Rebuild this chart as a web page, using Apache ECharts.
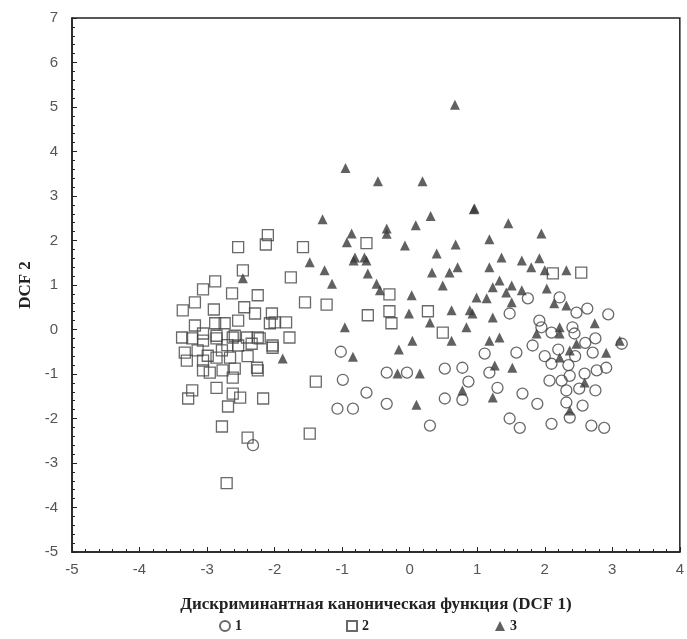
<!DOCTYPE html>
<html>
<head>
<meta charset="utf-8">
<script src="https://cdn.jsdelivr.net/npm/echarts@6/dist/echarts.min.js"></script>
<style>
  html, body { margin: 0; padding: 0; background: #fff; }
  #chart { width: 687px; height: 639px; }
</style>
</head>
<body>
<div id="chart"></div>
<script>
// group 1 (circles)
var group1 = [
  [-1.02,-0.50],[-0.99,-1.13],[-0.64,-1.42],[-0.34,-0.97],[-0.04,-0.97],[-0.34,-1.67],
  [-1.07,-1.78],[-0.84,-1.78],[0.30,-2.16],[0.52,-0.88],[0.78,-0.86],[0.87,-1.17],
  [0.52,-1.55],[0.78,-1.58],[1.75,0.70],[2.22,0.72],[2.47,0.38],[2.63,0.47],[2.94,0.34],
  [1.48,0.36],[1.92,0.20],[2.41,0.05],[2.10,-0.07],[1.11,-0.54],[1.58,-0.52],[1.18,-0.97],
  [1.82,-0.36],[2.10,-0.77],[2.07,-1.15],[2.25,-1.15],[2.37,-1.04],[2.59,-0.99],[2.77,-0.92],
  [2.91,-0.86],[2.71,-0.52],[2.44,-0.09],[1.30,-1.31],[1.67,-1.44],[1.89,-1.67],[2.32,-1.37],
  [2.51,-1.33],[2.75,-1.37],[2.32,-1.64],[2.56,-1.71],[2.37,-1.98],[1.48,-2.00],[1.63,-2.21],
  [2.10,-2.12],[2.69,-2.16],[2.88,-2.21],[3.14,-0.32],[-2.32,-2.60],[2.20,-0.45],[2.45,-0.60],
  [2.00,-0.60],[1.95,0.05],[2.60,-0.30],[2.35,-0.80],[2.75,-0.20]
];
// group 2 (squares)
var group2 = [
  [-2.10,2.12],[-2.13,1.91],[-2.54,1.85],[-2.47,1.33],[-2.88,1.08],[-3.06,0.90],[-2.63,0.81],
  [-2.25,0.77],[-3.18,0.61],[-3.36,0.43],[-2.29,0.36],[-2.04,0.36],[-2.07,0.14],[-3.18,0.09],
  [-2.88,0.14],[-2.74,0.14],[-2.54,0.20],[-3.37,-0.18],[-3.06,-0.09],[-2.86,-0.14],[-2.59,-0.14],
  [-2.25,-0.18],[-3.22,-0.20],[-3.06,-0.25],[-2.86,-0.20],[-2.62,-0.18],[-2.41,-0.18],[-2.22,-0.20],
  [-2.03,-0.36],[-3.33,-0.52],[-3.14,-0.47],[-2.99,-0.59],[-2.78,-0.47],[-2.54,-0.36],[-2.34,-0.32],
  [-3.30,-0.70],[-3.06,-0.70],[-2.86,-0.63],[-2.66,-0.63],[-3.06,-0.92],[-2.96,-0.97],[-2.77,-0.92],
  [-2.59,-0.88],[-2.62,-1.08],[-2.26,-0.86],[-2.25,-0.92],[-2.86,-1.31],[-3.22,-1.37],[-3.28,-1.55],
  [-2.62,-1.44],[-2.51,-1.53],[-2.69,-1.73],[-2.17,-1.55],[-2.78,-2.18],[-2.40,-2.43],[-2.71,-3.45],
  [-2.00,0.16],[-1.83,0.16],[-1.78,-0.18],[-2.03,-0.41],[-1.76,1.17],[-1.55,0.61],[-1.23,0.56],
  [-0.62,0.32],[-0.30,0.79],[-0.30,0.41],[-0.27,0.14],[0.27,0.41],[0.49,-0.07],[-1.58,1.85],
  [-0.64,1.94],[2.54,1.28],[2.12,1.26],[-1.39,-1.17],[-1.48,-2.34],[-2.90,0.45],[-2.45,0.50],
  [-2.70,-0.35],[-2.40,-0.60]
];
// group 3 (triangles)
var group3 = [
  [0.67,5.05],[-0.95,3.63],[-0.47,3.33],[0.19,3.33],[0.95,2.70],[-1.29,2.48],[0.31,2.55],
  [0.09,2.34],[-0.34,2.27],[-0.34,2.15],[-0.86,2.16],[-0.93,1.96],[-0.07,1.89],[0.68,1.91],
  [0.40,1.71],[-0.81,1.62],[-0.67,1.62],[-1.48,1.51],[-1.26,1.33],[-1.15,1.03],[-0.83,1.55],
  [-0.64,1.55],[-0.62,1.26],[-0.49,1.03],[-0.44,0.88],[0.33,1.28],[0.59,1.28],[0.71,1.40],
  [0.49,0.99],[0.03,0.77],[-0.01,0.36],[-0.96,0.05],[0.62,0.43],[0.30,0.16],[0.04,-0.25],
  [0.62,-0.25],[-0.16,-0.45],[-0.84,-0.61],[-1.88,-0.65],[-0.18,-0.99],[0.15,-0.99],[0.10,-1.69],
  [0.89,0.43],[0.84,0.05],[0.78,-1.37],[0.96,2.72],[1.46,2.39],[1.95,2.16],[1.18,2.03],[1.36,1.62],
  [1.18,1.40],[1.66,1.55],[1.80,1.40],[1.92,1.60],[2.00,1.33],[2.32,1.33],[1.33,1.10],[1.51,0.99],
  [1.66,0.88],[1.43,0.83],[1.23,0.95],[0.99,0.72],[1.14,0.70],[1.51,0.61],[2.03,0.92],[2.14,0.59],
  [2.32,0.54],[1.23,0.27],[2.74,0.14],[2.22,0.05],[0.93,0.36],[1.33,-0.18],[1.18,-0.25],[1.26,-0.81],
  [1.52,-0.86],[1.23,-1.53],[2.22,-0.63],[2.37,-0.47],[2.47,-0.32],[2.91,-0.52],[1.88,-0.09],
  [2.22,-0.09],[2.59,-1.19],[2.37,-1.82],[3.11,-0.25],[-2.47,1.15]
];

var xMin = -5, xMax = 4, yMin = -5, yMax = 7;
var tickColor = '#555';
var serif = '"Liberation Serif", "DejaVu Serif", serif';

var chart = echarts.init(document.getElementById('chart'));
chart.setOption({
  backgroundColor: '#fff',
  animation: false,
  grid: { left: 72, top: 18, right: 7, bottom: 87, show: true, borderColor: '#222', borderWidth: 1.5 },
  legend: [
    { left: 214, top: 614, data: [{ name: '1', icon: 'circle' }], itemWidth: 10, itemHeight: 10,
      textStyle: { fontFamily: serif, fontWeight: 'bold', fontSize: 14, color: '#222' } },
    { left: 341, top: 614, data: [{ name: '2', icon: 'rect' }], itemWidth: 10, itemHeight: 10,
      textStyle: { fontFamily: serif, fontWeight: 'bold', fontSize: 14, color: '#222' } },
    { left: 490, top: 614, data: [{ name: '3', icon: 'triangle' }], itemWidth: 10, itemHeight: 10,
      textStyle: { fontFamily: serif, fontWeight: 'bold', fontSize: 14, color: '#222' } }
  ],
  xAxis: {
    type: 'value', min: xMin, max: xMax, interval: 1,
    name: 'Дискриминантная каноническая функция (DCF 1)',
    nameLocation: 'middle', nameGap: 44,
    nameTextStyle: { fontFamily: serif, fontWeight: 'bold', fontSize: 17, color: '#222' },
    axisLine: { onZero: false, lineStyle: { color: '#222', width: 1.5 } },
    axisTick: { inside: true, length: 5, lineStyle: { color: '#222' } },
    minorTick: { show: true, splitNumber: 5, length: 3, lineStyle: { color: '#222' } },
    splitLine: { show: false },
    axisLabel: { color: tickColor, fontSize: 15, fontFamily: 'Liberation Sans', margin: 10 }
  },
  yAxis: {
    type: 'value', min: yMin, max: yMax, interval: 1,
    name: 'DCF 2', nameLocation: 'middle', nameGap: 36, nameRotate: 90,
    nameTextStyle: { fontFamily: serif, fontWeight: 'bold', fontSize: 17, color: '#222' },
    axisLine: { onZero: false, lineStyle: { color: '#222', width: 1.5 } },
    axisTick: { inside: true, length: 5, lineStyle: { color: '#222' } },
    minorTick: { show: true, splitNumber: 5, length: 3, lineStyle: { color: '#222' } },
    splitLine: { show: false },
    axisLabel: { color: tickColor, fontSize: 15, fontFamily: 'Liberation Sans', margin: 14 }
  },
  series: [
    { name: '1', type: 'scatter', data: group1, symbol: 'circle', symbolSize: 11,
      itemStyle: { color: 'rgba(255,255,255,0)', borderColor: '#444', borderWidth: 1.3 } },
    { name: '2', type: 'scatter', data: group2, symbol: 'rect', symbolSize: 11,
      itemStyle: { color: 'rgba(255,255,255,0)', borderColor: '#444', borderWidth: 1.3 } },
    { name: '3', type: 'scatter', data: group3, symbol: 'triangle', symbolSize: 10,
      itemStyle: { color: '#3a3a3a' } }
  ]
});
</script>
</body>
</html>
